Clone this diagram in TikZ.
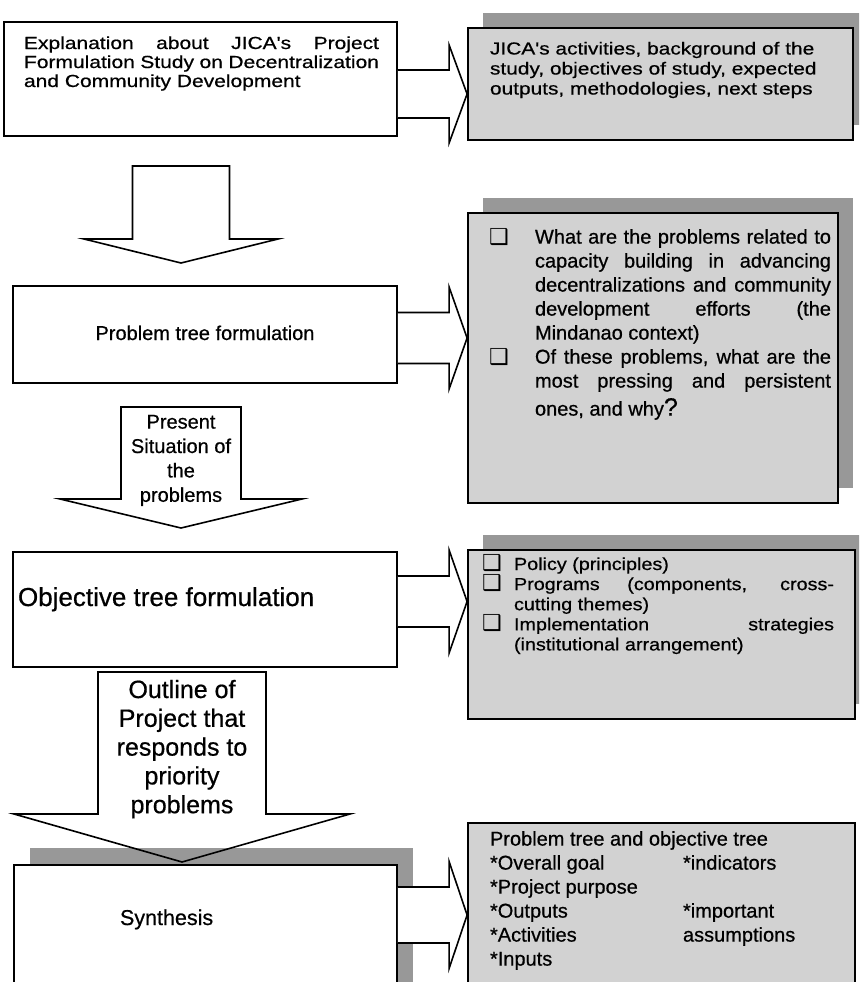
\documentclass[tikz,border=0pt]{standalone}
\usepackage{fontspec}
\setmainfont{Liberation Sans}[FakeBold=0.6]
\newfontfamily\fontA{Liberation Sans}[FakeStretch=1.2,FakeBold=0.6]
\newfontfamily\fontB{Liberation Sans}[FakeStretch=1.2,FakeBold=0.6]
\newfontfamily\fontC{Liberation Sans}[FakeStretch=1.13,FakeBold=0.6]
\newfontfamily\symfont{DejaVu Sans}
\usetikzlibrary{calc,shadows}

\definecolor{panelfill}{HTML}{D2D2D2}
\definecolor{panelshade}{HTML}{989898}

% a line whose interword spaces stretch to the given width
\newcommand\jline[2]{\makebox[#1][s]{#2}}
% shadowed square bullet in a slot of the given width
\newcommand\qb[1]{\makebox[#1][l]{\raisebox{-0.5pt}{\fontsize{22}{22}\symfont\char"2751}}}

% right-pointing block arrow from one box to the next
% #1 from node, #2 to node, #3 centre y, #4 shaft half-height, #5 head half-height
\newcommand\rightblock[5]{%
  \coordinate (ra-top) at (0,{#3-#4});
  \coordinate (ra-bot) at (0,{#3+#4});
  \coordinate (ha-top) at (0,{#3-#5});
  \coordinate (ha-bot) at (0,{#3+#5});
  \coordinate (ha-mid) at (0,#3);
  \filldraw[blockarrow]
    (#1.east |- ra-top) -- ($(#2.west |- ra-top)+(-18,0)$)
    -- ($(#2.west |- ha-top)+(-18,0)$) -- (#2.west |- ha-mid)
    -- ($(#2.west |- ha-bot)+(-18,0)$) -- ($(#2.west |- ra-bot)+(-18,0)$)
    -- (#1.east |- ra-bot);}

% downward block arrow
% #1 centre x, #2 top y, #3 shoulder y, #4 tip y, #5 shaft half-width, #6 head half-width
\newcommand\downblock[6]{%
  \draw[downarrow] ({#1-#5},#2) -- ({#1+#5},#2) -- ({#1+#5},#3) -- ({#1+#6},#3)
    -- (#1,#4) -- ({#1-#6},#3) -- ({#1-#5},#3) -- cycle;}

\begin{document}
\begin{tikzpicture}[x=1pt,y=-1pt,
  plainbox/.style={draw=black, line width=1.8pt, fill=white, inner sep=0pt},
  panel/.style={draw=black, line width=1.8pt, fill=panelfill, inner sep=0pt},
  shaded/.style={general shadow={fill=panelshade, shadow xshift=15pt, shadow yshift=15pt}},
  blockarrow/.style={draw=black, line width=1.6pt, fill=white, line join=miter},
  downarrow/.style={draw=black, line width=1.6pt, line join=miter},
  txt/.style={inner sep=0pt, outer sep=0pt},
]
\useasboundingbox (0,0) rectangle (859,982);
\clip (0,0) rectangle (859,982);

% grey information panels
\node[panel, shaded, minimum width=385pt, minimum height=112pt] (info1) at (660.5,84) {};
\node[panel, shaded, minimum width=370pt, minimum height=290pt] (info2) at (653,358) {};
\node[panel, shaded, minimum width=387pt, minimum height=169pt] (info3) at (661.5,634.5) {};
\node[panel, minimum width=387pt, minimum height=182pt] (info4) at (661.5,914) {};

% process stages
\node[plainbox, minimum width=393pt, minimum height=114pt] (expl) at (200.5,79) {};
\node[plainbox, minimum width=384pt, minimum height=97pt] (probl) at (205,334.5) {};
\node[plainbox, minimum width=384pt, minimum height=115pt] (objt) at (205,609.5) {};
\node[plainbox, general shadow={fill=panelshade, shadow xshift=16pt, shadow yshift=17pt},
      minimum width=383pt, minimum height=140pt] (synth) at (205.5,935) {};

% arrows from each stage to its panel
\rightblock{expl}{info1}{94}{24}{49}
\rightblock{probl}{info2}{338}{25.5}{51}
\rightblock{objt}{info3}{601.5}{25.5}{51.5}
\rightblock{synth}{info4}{915}{28}{53.5}

% arrows between stages
\downblock{181}{166}{239}{263}{48.5}{97}
\downblock{181}{407}{499}{528}{60}{121}
\downblock{182}{672}{814}{862}{84}{168}

% stage labels
\node[txt, anchor=base west] (expltxt) at (24,49) {\begin{minipage}[t]{360pt}%
\fontA\fontsize{17.5}{19}\selectfont
\jline{355pt}{Explanation about JICA's Project}\\
\jline{355pt}{Formulation Study on Decentralization}\\
and Community Development\end{minipage}};

\node[txt, anchor=base, font=\fontsize{20}{24}\selectfont] (probltxt) at (205,340) {Problem tree formulation};
\node[txt, anchor=base west, font=\fontsize{26}{30}\selectfont] (objttxt) at (18,606) {Objective tree formulation};
\node[txt, anchor=base west, font=\fontsize{21.5}{26}\selectfont] (synthtxt) at (120,925) {Synthesis};

% labels inside the down arrows
\node[txt, anchor=base] (presenttxt) at (181,428.6) {\begin{minipage}[t]{120pt}\centering
\fontsize{20}{24.4}\selectfont Present\\Situation of\\the\\problems\end{minipage}};
\node[txt, anchor=base] (outlinetxt) at (182,698) {\begin{minipage}[t]{170pt}\centering
\fontsize{25}{28.8}\selectfont Outline of\\Project that\\responds to\\priority\\problems\end{minipage}};

% panel texts
\node[txt, anchor=base west] (info1txt) at (490,54.5) {\begin{minipage}[t]{350pt}%
\fontB\fontsize{17.4}{20}\selectfont
JICA's activities, background of the\\
study, objectives of study, expected\\
outputs, methodologies, next steps\end{minipage}};

\node[txt, anchor=base west] (info2txt) at (489,243.6) {\begin{minipage}[t]{345pt}%
\fontsize{20}{24}\selectfont
\qb{46pt}\jline{296pt}{What are the problems related to}\\
\hspace*{46pt}\jline{296pt}{capacity building in advancing}\\
\hspace*{46pt}\jline{296pt}{decentralizations and community}\\
\hspace*{46pt}\jline{296pt}{development efforts (the}\\
\hspace*{46pt}Mindanao context)\\
\qb{46pt}\jline{296pt}{Of these problems, what are the}\\
\hspace*{46pt}\jline{296pt}{most pressing and persistent}\\[4pt]
\hspace*{46pt}ones, and why{\fontsize{25}{24}\selectfont ?}\end{minipage}};

\node[txt, anchor=base west] (info3txt) at (482,570) {\begin{minipage}[t]{360pt}%
\fontC\fontsize{17.5}{20.1}\selectfont
\qb{32pt}Policy (principles)\\
\qb{32pt}\jline{320pt}{Programs (components, cross-}\\
\hspace*{32pt}cutting themes)\\
\qb{32pt}\jline{320pt}{Implementation strategies}\\
\hspace*{32pt}(institutional arrangement)\end{minipage}};

\node[txt, anchor=base west] (info4txt) at (490,845.6) {\begin{minipage}[t]{360pt}%
\fontsize{20}{24}\selectfont
Problem tree and objective tree\\
\makebox[193pt][l]{{*}Overall goal}{*}indicators\\
{*}Project purpose\\
\makebox[193pt][l]{{*}Outputs}{*}important\\
\makebox[193pt][l]{{*}Activities}assumptions\\
{*}Inputs\end{minipage}};
\end{tikzpicture}
\end{document}
